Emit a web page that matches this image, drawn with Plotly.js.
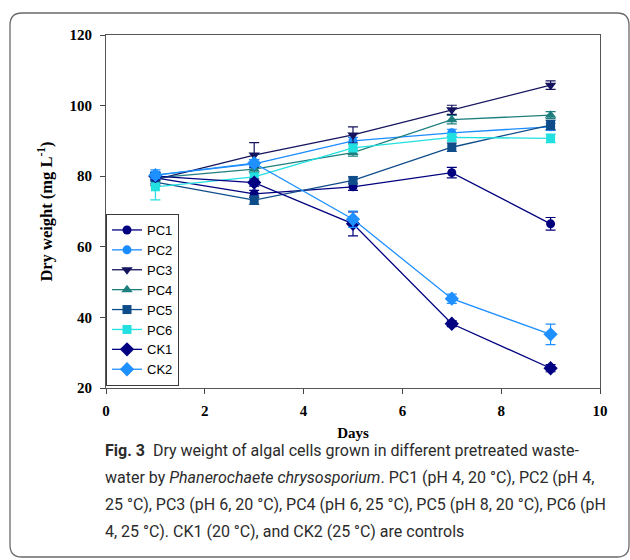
<!DOCTYPE html>
<html>
<head>
<meta charset="utf-8">
<script src="https://cdn.plot.ly/plotly-3.0.1.min.js"></script>
<style>
  html, body { margin: 0; padding: 0; background: #ffffff; }
  #chart { width: 630px; height: 560px; }
</style>
</head>
<body>
<div id="chart"></div>
<script>
// ---- data ----
const days = [1, 3, 5, 7, 9];
const seriesNames = ["PC1", "PC2", "PC3", "PC4", "PC5", "PC6", "CK1", "CK2"];
const PC1 = [79.5, 75.0, 77.0, 81.0, 66.5];
const PC1_err = [1.5, 1.0, 1.0, 1.5, 1.8];
const PC2 = [80.3, 83.5, 90.0, 92.3, 94.0];
const PC2_err = [1.5, 1.2, 1.0, 1.0, 1.0];
const PC3 = [79.0, 86.0, 91.7, 98.8, 105.8];
const PC3_err = [1.5, 3.5, 2.3, 1.3, 1.2];
const PC4 = [79.5, 82.0, 86.7, 96.0, 97.3];
const PC4_err = [1.0, 1.0, 1.0, 1.2, 1.0];
const PC5 = [78.3, 73.2, 78.8, 88.2, 94.5];
const PC5_err = [1.0, 1.2, 1.0, 1.2, 1.3];
const PC6 = [77.0, 79.8, 88.0, 91.0, 90.7];
const PC6_err = [3.7, 1.0, 1.0, 1.0, 1.2];
const CK1 = [80.0, 78.2, 66.5, 38.2, 25.6];
const CK1_err = [1.0, 1.0, 3.4, 0.8, 1.0];
const CK2 = [80.3, 83.7, 67.8, 45.3, 35.2];
const CK2_err = [1.0, 1.0, 2.3, 1.3, 2.9];
const xTicks = [0, 2, 4, 6, 8, 10];
const yTicks = [20, 40, 60, 80, 100, 120];
const captionLines = [
  "<b>Fig. 3</b>  Dry weight of algal cells grown in different pretreated waste-",
  "water by <i>Phanerochaete chrysosporium</i>. PC1 (pH 4, 20 °C), PC2 (pH 4,",
  "25 °C), PC3 (pH 6, 20 °C), PC4 (pH 6, 25 °C), PC5 (pH 8, 20 °C), PC6 (pH",
  "4, 25 °C). CK1 (20 °C), and CK2 (25 °C) are controls"
];

// ---- styles ----
const values = [PC1, PC2, PC3, PC4, PC5, PC6, CK1, CK2];
const errors = [PC1_err, PC2_err, PC3_err, PC4_err, PC5_err, PC6_err, CK1_err, CK2_err];
const colors = ["#00007f", "#1a8cff", "#14145e", "#1f7f7f", "#0f4c8a", "#22e0e0", "#000080", "#1e90ff"];
const symbols = ["circle", "circle", "triangle-down", "triangle-up", "square", "square", "diamond", "diamond"];
const sizes = [9, 9, 10, 10, 9, 9, 11, 11];

const traces = seriesNames.map((name, i) => ({
  type: "scatter",
  mode: "lines+markers",
  name: name,
  x: days,
  y: values[i],
  line: { color: colors[i], width: 1.3 },
  marker: { color: colors[i], symbol: symbols[i], size: sizes[i] },
  error_y: { type: "data", array: errors[i], visible: true, color: colors[i], thickness: 1.2, width: 5 }
}));

// plot-area geometry in pixels (for decorations only)
const W = 630, H = 560, L = 106, R = 30, T = 35, B = 172;
const pw = W - L - R, ph = H - T - B;
const px = v => (v - L) / pw;
const py = v => (H - B - v) / ph;

// rounded frame around the figure
const fl = 10, ft = 13, fr = 629, fb = 557, rad = 12;
const framePath =
  `M ${px(fl)} ${py(ft + rad)} ` +
  `Q ${px(fl)} ${py(ft)} ${px(fl + rad)} ${py(ft)} ` +
  `L ${px(fr - rad)} ${py(ft)} ` +
  `Q ${px(fr)} ${py(ft)} ${px(fr)} ${py(ft + rad)} ` +
  `L ${px(fr)} ${py(fb - rad)} ` +
  `Q ${px(fr)} ${py(fb)} ${px(fr - rad)} ${py(fb)} ` +
  `L ${px(fl + rad)} ${py(fb)} ` +
  `Q ${px(fl)} ${py(fb)} ${px(fl)} ${py(fb - rad)} Z`;

const captionY = [450, 477, 504, 531];
const annotations = captionLines.map((t, i) => ({
  text: t,
  xref: "paper", yref: "paper",
  x: px(103), y: py(captionY[i]),
  xanchor: "left", yanchor: "middle",
  showarrow: false,
  font: { family: "Roboto, sans-serif", size: 16, color: "#2b2b2b" }
}));

const serif = "Liberation Serif, Times New Roman, serif";
const layout = {
  width: W, height: H,
  margin: { l: L, r: R, t: T, b: B },
  paper_bgcolor: "#ffffff",
  plot_bgcolor: "#ffffff",
  showlegend: true,
  legend: {
    x: 0, y: py(214), xanchor: "left", yanchor: "top",
    bgcolor: "#ffffff", bordercolor: "#3a3a3a", borderwidth: 1,
    font: { family: "Liberation Sans, Arial, sans-serif", size: 13, color: "#000000" },
    tracegroupgap: 0
  },
  xaxis: {
    range: [0, 10],
    tickvals: xTicks,
    ticktext: xTicks.map(String),
    ticks: "outside", ticklen: 5, tickcolor: "#444",
    ticklabelstandoff: 4,
    showline: true, linecolor: "#555", linewidth: 1, mirror: true,
    showgrid: false, zeroline: false,
    tickfont: { family: serif, size: 15, color: "#000", weight: "bold" },
    title: { text: "<b>Days</b>", font: { family: serif, size: 15, color: "#000" }, standoff: 9 }
  },
  yaxis: {
    range: [20, 120],
    tickvals: yTicks,
    ticktext: yTicks.map(String),
    ticks: "outside", ticklen: 5, tickcolor: "#444",
    ticklabelstandoff: 5,
    showline: true, linecolor: "#555", linewidth: 1, mirror: true,
    showgrid: false, zeroline: false,
    tickfont: { family: serif, size: 15, color: "#000", weight: "bold" },
    title: { text: "<b>Dry weight (mg L<sup>-1</sup>)</b>", font: { family: serif, size: 16.5, color: "#000" }, standoff: 12 }
  },
  shapes: [{
    type: "path", xref: "paper", yref: "paper", path: framePath,
    line: { color: "#6a6a6a", width: 1.3 }, fillcolor: "rgba(0,0,0,0)", layer: "below"
  }],
  annotations: annotations
};

Plotly.newPlot("chart", traces, layout, { displayModeBar: false, staticPlot: true });
</script>
</body>
</html>
